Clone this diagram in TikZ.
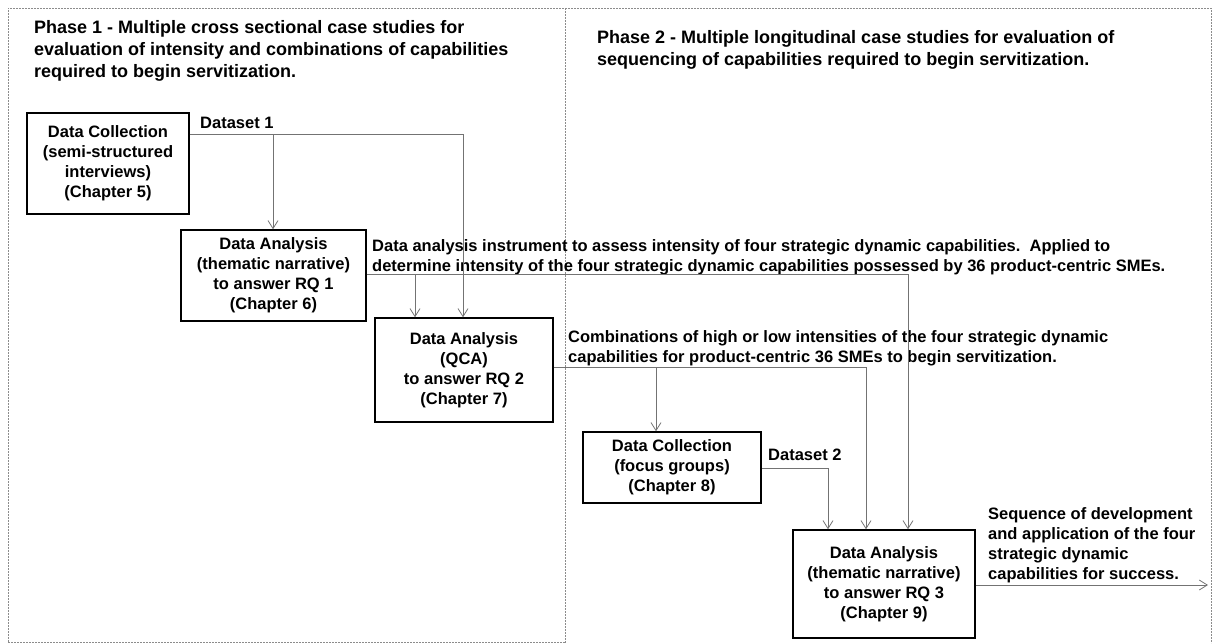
\documentclass[tikz,border=0pt]{standalone}
\usepackage{fontspec}
\setmainfont{Liberation Sans}
\usetikzlibrary{arrows.meta}
\begin{document}
\begin{tikzpicture}[x=1pt,y=-1pt,
  frame/.style={draw=black!45, line width=0.9pt, dash pattern=on 1.6pt off 1.4pt},
  stage/.style={draw=black, line width=1.4pt, align=center, inner sep=0pt,
    font=\bfseries\fontsize{16.5}{20}\selectfont},
  conn/.style={draw=black!55, line width=1pt},
  arr/.style={conn, -{Straight Barb[length=8pt,width=10pt,line width=0.8pt]}},
  note/.style={align=left, inner sep=0pt, anchor=north west,
    font=\bfseries\fontsize{16.5}{20}\selectfont},
  phasetitle/.style={align=left, inner sep=0pt, anchor=north west,
    font=\bfseries\fontsize{18}{22}\selectfont}]

\useasboundingbox (0,0) rectangle (1213,643);

% phase frames
\draw[frame] (8,642) -- (8,8) -- (1211,8) -- (1211,643);
\draw[frame] (565,8) -- (565,643);
\draw[frame] (8,642) -- (565,642);

% phase titles
\node[phasetitle] (p1) at (34,20) {Phase 1 - Multiple cross sectional case studies for\\evaluation of intensity and combinations of capabilities\\required to begin servitization.};
\node[phasetitle] (p2) at (597,30) {Phase 2 - Multiple longitudinal case studies for evaluation of\\sequencing of capabilities required to begin servitization.};

% stages
\node[stage, minimum width=162pt, minimum height=101pt] (dc1) at (108,163.5)
  {Data Collection\\(semi-structured\\interviews)\\(Chapter 5)};
\node[stage, minimum width=185pt, minimum height=91pt] (da1) at (273.5,275.5)
  {Data Analysis\\(thematic narrative)\\to answer RQ 1\\(Chapter 6)};
\node[stage, minimum width=178pt, minimum height=104pt] (qca) at (464,370)
  {Data Analysis\\(QCA)\\to answer RQ 2\\(Chapter 7)};
\node[stage, minimum width=178pt, minimum height=71pt] (dc2) at (672,467.5)
  {Data Collection\\(focus groups)\\(Chapter 8)};
\node[stage, minimum width=182pt, minimum height=108pt] (da3) at (884,584)
  {Data Analysis\\(thematic narrative)\\to answer RQ 3\\(Chapter 9)};

% connector labels
\node[note] (l1) at (200,117) {Dataset 1};
\node[note] (l2) at (372,239) {Data analysis instrument to assess intensity of four strategic dynamic capabilities.\ \ Applied to\\determine intensity of the four strategic dynamic capabilities possessed by 36 product-centric SMEs.};
\node[note] (l3) at (568,330) {Combinations of high or low intensities of the four strategic dynamic\\capabilities for product-centric 36 SMEs to begin servitization.};
\node[note] (l4) at (768,449) {Dataset 2};
\node[note] (l5) at (988,507) {Sequence of development\\and application of the four\\strategic dynamic\\capabilities for success.};

% junction points
\coordinate (d1) at (463,134);
\coordinate (d1b) at (273,134);
\coordinate (i1) at (908,274);
\coordinate (i1b) at (415,274);
\coordinate (c1) at (866,367);
\coordinate (c1b) at (656,367);
\coordinate (d2) at (828,468);
\coordinate (out) at (1208,585);

% connectors
\draw[arr] (dc1.east |- d1) -- (d1) -- (d1 |- qca.north);
\draw[arr] (d1b) -- (d1b |- da1.north);
\draw[arr] (da1.east |- i1) -- (i1) -- (i1 |- da3.north);
\draw[arr] (i1b) -- (i1b |- qca.north);
\draw[arr] (qca.east |- c1) -- (c1) -- (c1 |- da3.north);
\draw[arr] (c1b) -- (c1b |- dc2.north);
\draw[arr] (dc2.east |- d2) -- (d2) -- (d2 |- da3.north);
\draw[arr] (da3.east |- out) -- (out);
\end{tikzpicture}
\end{document}
